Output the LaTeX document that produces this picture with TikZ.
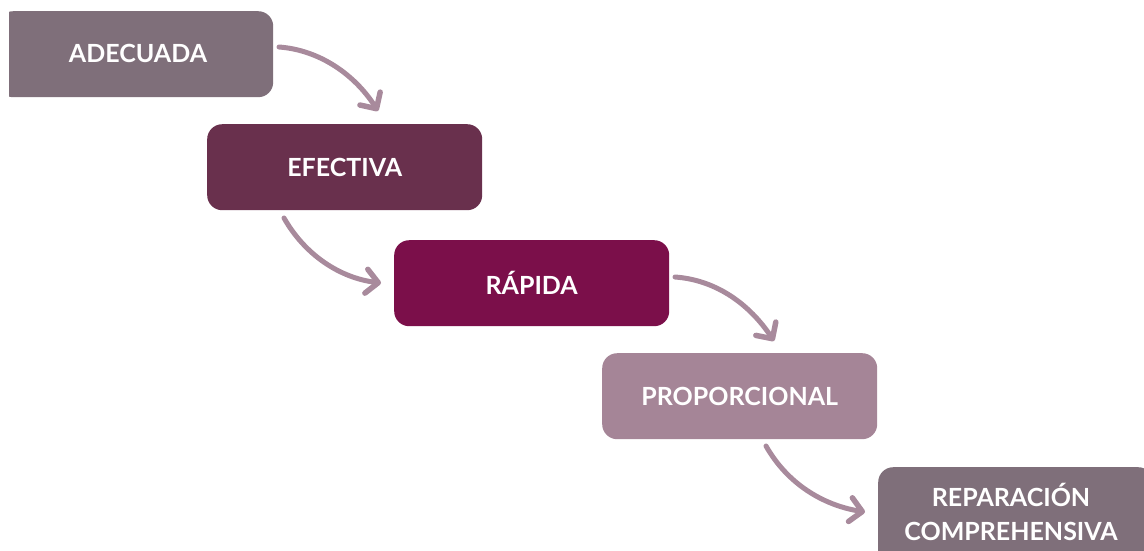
\documentclass[tikz,border=0pt]{standalone}
\usepackage{fontspec}
\setmainfont{Lato}
\usetikzlibrary{arrows.meta}
\definecolor{greymauve}{HTML}{7F6F7A}
\definecolor{wine}{HTML}{69304D}
\definecolor{berry}{HTML}{7B0F4A}
\definecolor{lilac}{HTML}{A58597}
\definecolor{arrowc}{HTML}{A88A9C}
\tikzset{
  label/.style={text=white, font=\fontsize{25}{34}\selectfont\bfseries, align=center, inner sep=0pt},
  stage/.style={label, rounded corners=15pt, minimum width=275pt, minimum height=86pt},
  flow/.style={draw=arrowc, line width=5pt, line cap=round,
    -{Straight Barb[length=12pt, width=24pt, line width=5.5pt, line cap=round, line join=round]}}
}
\begin{document}
\begin{tikzpicture}[x=1pt, y=-1pt]
\useasboundingbox (0,0) rectangle (1144,550);
% first box runs off the left edge, last one off the right and bottom
\begin{scope}
\clip (9,0) rectangle (1144,550);
\node[stage, fill=greymauve, anchor=north west] (a) at (-2,11) {};
\node[label] (at) at (138,53) {ADECUADA};
\node[stage, fill=greymauve, anchor=north west, minimum height=100pt] (e) at (878,467) {};
\node[label] (et) at (1011,512) {REPARACIÓN\\COMPREHENSIVA};
\end{scope}
\node[stage, fill=wine, anchor=north west] (b) at (207,124) {EFECTIVA};
\node[stage, fill=berry, anchor=north west] (c) at (394,240) {RÁPIDA};
\node[stage, fill=lilac, anchor=north west] (d) at (602,353) {PROPORCIONAL};
% connectors
\coordinate (a1) at (279,47);  \coordinate (a2) at (378,111);
\coordinate (b1) at (284,218); \coordinate (b2) at (381,283);
\coordinate (c1) at (675,277); \coordinate (c2) at (774,341);
\coordinate (d1) at (766,446); \coordinate (d2) at (865,512);
\draw[flow] (a1) .. controls (320,50) and (355,75) .. (a2);
\draw[flow] (b1) .. controls (305,255) and (340,278) .. (b2);
\draw[flow] (c1) .. controls (717,280) and (750,305) .. (c2);
\draw[flow] (d1) .. controls (787,483) and (822,505) .. (d2);
\end{tikzpicture}
\end{document}
